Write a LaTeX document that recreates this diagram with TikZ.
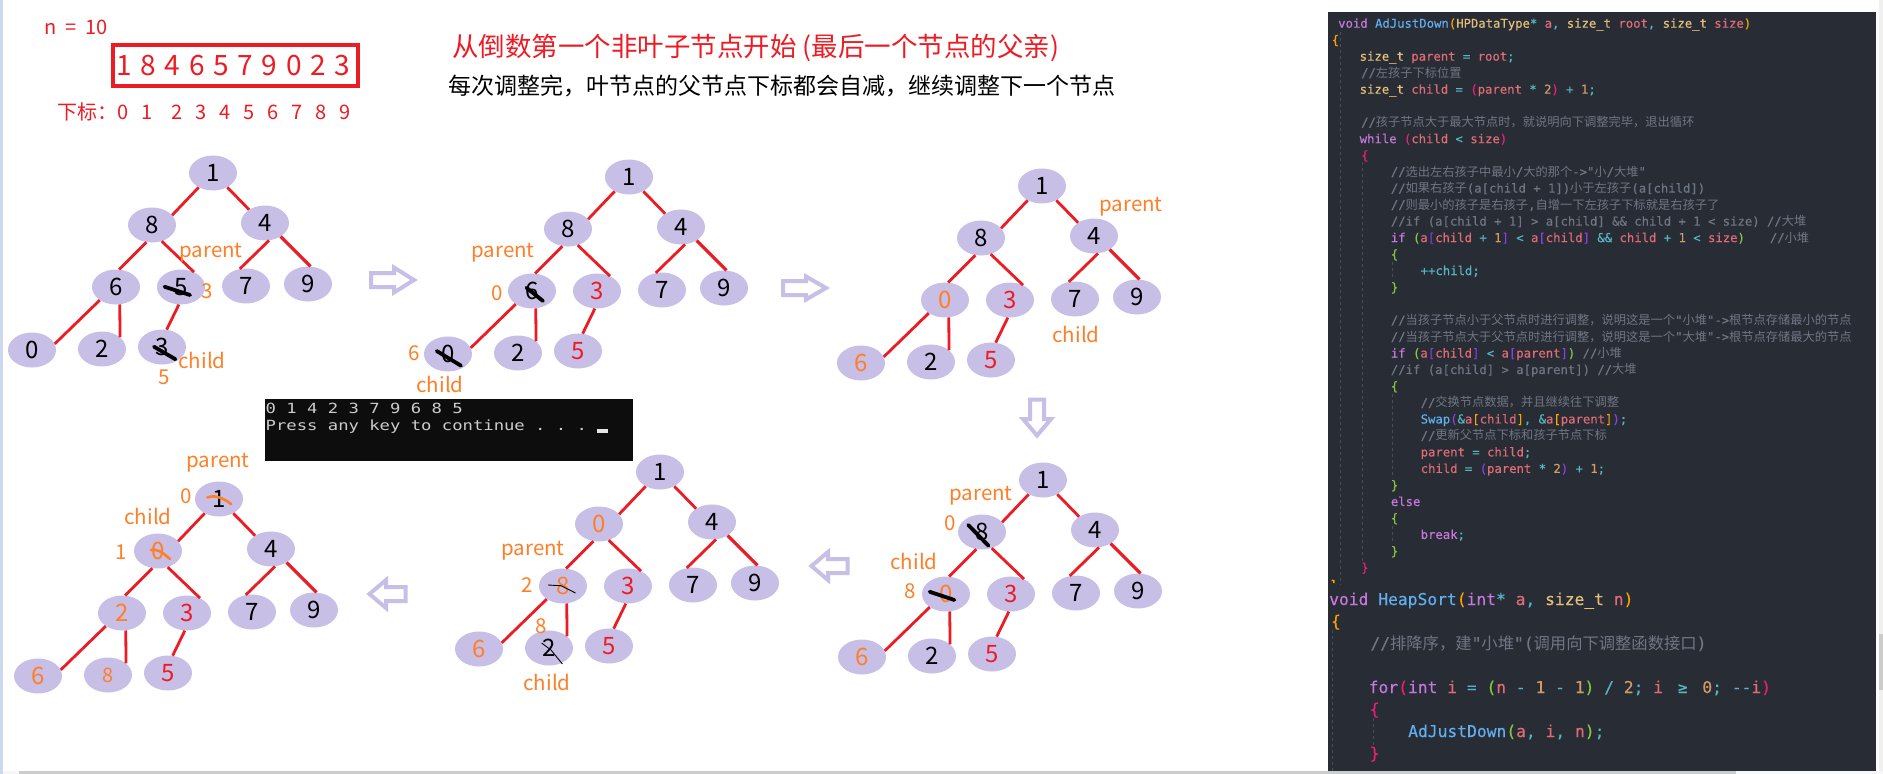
\documentclass[tikz,border=0pt]{standalone}
\usepackage{fontspec}
\usetikzlibrary{shapes.geometric}
\setmainfont{Noto Sans CJK SC}
\newfontfamily\zhf{Noto Sans CJK SC}
\newfontfamily\cmono[FakeBold=0.25]{DejaVu Sans Mono}
\newfontfamily\conf[FakeStretch=1.23]{DejaVu Sans Mono}
\definecolor{lav}{HTML}{C8BFE7}
\definecolor{myrd}{HTML}{ED1C24}
\definecolor{myor}{HTML}{FF7F27}
\definecolor{panel}{HTML}{282C34}
\definecolor{ckw}{HTML}{C678DD}
\definecolor{cfn}{HTML}{61AFEF}
\definecolor{cty}{HTML}{E5C07B}
\definecolor{cva}{HTML}{E06C75}
\definecolor{cnu}{HTML}{D19A66}
\definecolor{cop}{HTML}{56B6C2}
\definecolor{cco}{HTML}{6F7683}
\definecolor{brA}{HTML}{FFA000}
\definecolor{brB}{HTML}{F01E78}
\definecolor{brC}{HTML}{8CC63F}
\definecolor{brD}{HTML}{8A3FE0}
\definecolor{winedge}{HTML}{CDD8EC}
\newcommand\zh[1]{{\zhf #1}}
\newcommand\cK[1]{\textcolor{ckw}{#1}}
\newcommand\cF[1]{\textcolor{cfn}{#1}}
\newcommand\cT[1]{\textcolor{cty}{#1}}
\newcommand\cV[1]{\textcolor{cva}{#1}}
\newcommand\cN[1]{\textcolor{cnu}{#1}}
\newcommand\cO[1]{\textcolor{cop}{#1}}
\newcommand\bA[1]{\textcolor{brA}{#1}}
\newcommand\bB[1]{\textcolor{brB}{#1}}
\newcommand\bC[1]{\textcolor{brC}{#1}}
\newcommand\bD[1]{\textcolor{brD}{#1}}
\newcommand\cor{\color{myor}}
\newcommand\crd{\color{myrd}}
\tikzset{
  hn/.style={ellipse,fill=lav,inner sep=0pt,minimum width=48pt,minimum height=35pt,font=\fontsize{24}{26}\selectfont},
  ed/.style={draw=myrd,line width=2.8pt},
  lbl/.style={inner sep=0pt,text=myor,font=\fontsize{20.5}{24}\selectfont},
  sk/.style={draw=black,line width=3.8pt,line cap=round},
  thinsk/.style={draw=black,line width=.9pt},
  orsk/.style={draw=myor,line width=2.6pt,line cap=round},
  blk/.style={draw=lav,line width=4pt,miter limit=10},
  cd/.style={inner sep=0pt,anchor=base west,text=cco,font=\cmono\frenchspacing\fontsize{12.25}{14}\selectfont},
  cdb/.style={inner sep=0pt,anchor=base west,text=cco,font=\cmono\frenchspacing\fontsize{16.3}{20}\selectfont},
  guide/.style={draw=cco!45!panel,line width=.6pt,dash pattern=on 3pt off 3pt},
  con/.style={inner sep=0pt,anchor=base west,text=black!20,font=\conf\frenchspacing\fontsize{14}{16}\selectfont}
}
\newcommand\heap[9]{\def\hp{#1}\def\hx{#2}\def\hy{#3}\def\hA{#4}\def\hB{#5}\def\hC{#6}\def\hD{#7}\def\hE{#8}\def\hF{#9}\heapB}
\newcommand\heapB[4]{%
 \begin{scope}[shift={(\hx,\hy)}]
  \node[hn] (\hp-a) at (0,0) {\hA};
  \node[hn] (\hp-b) at (-61,52) {\hB};
  \node[hn] (\hp-c) at (52,50) {\hC};
  \node[hn] (\hp-d) at (-97,114) {\hD};
  \node[hn] (\hp-e) at (-32,114) {\hE};
  \node[hn] (\hp-f) at (33,113) {\hF};
  \node[hn] (\hp-g) at (95,111) {#1};
  \node[hn] (\hp-h) at (-181,177) {#2};
  \node[hn] (\hp-i) at (-111,176) {#3};
  \node[hn] (\hp-j) at (-51,174) {#4};
  \draw[ed] (\hp-a.225.6) -- (\hp-b.26);
  \draw[ed] (\hp-a.315) -- (\hp-c.140);
  \draw[ed] (\hp-b.252) -- (\hp-d.80);
  \draw[ed] (\hp-b.301) -- (\hp-e.49);
  \draw[ed] (\hp-c.283) -- (\hp-f.110);
  \draw[ed,line width=3.2pt] (\hp-c.319) -- (\hp-g.82);
  \draw[ed] (\hp-d.219) -- (\hp-h.15);
  \draw[ed] (\hp-d.282) -- (\hp-i.33.6);
  \draw[ed] (\hp-e.263) -- (\hp-j.75);
 \end{scope}}
\newcommand\blockarrow[5]{%
 \pgfmathsetmacro\aL{#4/2-2.5}\pgfmathsetmacro\aW{#5/2-3.5}%
 \draw[blk,shift={(#1,#2)},rotate=#3] (-\aL,-7) -- (1,-7) -- (1,-\aW) -- (\aL-1,0) -- (1,\aW) -- (1,7) -- (-\aL,7) -- cycle;}
\newcommand\cl[4]{\pgfmathsetmacro\cy{23.3+16.49*#2+4.4}\node[cd] (#1) at (#3,\cy) {#4};}
\begin{document}
\begin{tikzpicture}[x=1pt,y=-1pt]
\useasboundingbox (0,0) rectangle (1883,774);
\fill[white] (0,0) rectangle (1883,774);
% window edges
\fill[black!3] (0,771) rectangle (1883,774);
\fill[black!20] (19,771) rectangle (1736,774);
\fill[winedge] (0,0) rectangle (2.5,774);
\fill[black!6] (1879,0) rectangle (1883,771);
\fill[black!20] (1879,634) rectangle (1883,690);

% header
\node[inner sep=0pt,anchor=base west,text=myrd,font=\fontsize{20}{24}\selectfont] (nlabel) at (44,34) {\spaceskip=9pt n = 10};
\node[draw=myrd,line width=3.6pt,inner sep=0pt,minimum width=245.4pt,minimum height=41.4pt,text=myrd,font=\fontsize{28}{30}\selectfont] (arr) at (235.5,65.5) {\spaceskip=8.7pt 1 8 4 6 5 7 9 0 2 3\kern4.4pt};
\node[inner sep=0pt,anchor=base west,text=myrd,font=\fontsize{20}{24}\selectfont] (idx) at (57,119.5) {\spaceskip=12.9pt 下标：0 1\hspace{6pt} 2 3 4 5 6 7 8 9};
\node[inner sep=0pt,anchor=base west,text=myrd,font=\fontsize{26.5}{30}\selectfont] (title) at (452,56.5) {从倒数第一个非叶子节点开始 (最后一个节点的父亲)};
\node[inner sep=0pt,anchor=base west,text=black,font=\fontsize{23}{28}\selectfont] (sub) at (448,94.3) {每次调整完，叶节点的父节点下标都会自减，继续调整下一个节点};

% trees
\heap{ta}{213}{173}{1}{8}{4}{6}{5}{7}{9}{0}{2}{3}
\heap{tb}{629}{177}{1}{8}{4}{6}{\crd 3}{7}{9}{0}{2}{\crd 5}
\heap{tc}{1042}{186}{1}{8}{4}{\cor 0}{\crd 3}{7}{9}{\cor 6}{2}{\crd 5}
\heap{td}{1043}{480}{1}{8}{4}{\cor 0}{\crd 3}{7}{9}{\cor 6}{2}{\crd 5}
\heap{te}{660}{472}{1}{\cor 0}{4}{\cor 8}{\crd 3}{7}{9}{\cor 6}{2}{\crd 5}
\heap{tf}{219}{499}{1}{\cor 0}{4}{\cor 2}{\crd 3}{7}{9}{\cor 6}{\cor\fontsize{20}{22}\selectfont 8}{\crd 5}

% tree annotations
\node[lbl] (ta1) at (211,253) {parent};
\node[lbl] (ta2) at (207,291) {3};
\node[lbl] (ta3) at (202,360) {child};
\node[lbl] (ta4) at (164,377) {5};
\node[lbl] (tb1) at (503,253) {parent};
\node[lbl] (tb2) at (497.5,293) {0};
\node[lbl] (tb3) at (414,353) {6};
\node[lbl] (tb4) at (440,384) {child};
\node[lbl] (tc1) at (1131,207) {parent};
\node[lbl] (tc2) at (1076,334) {child};
\node[lbl] (td1) at (981,496) {parent};
\node[lbl] (td2) at (950,523) {0};
\node[lbl] (td3) at (914,561) {child};
\node[lbl] (td4) at (910,591) {8};
\node[lbl] (te1) at (533,551) {parent};
\node[lbl] (te2) at (527,585) {2};
\node[lbl] (te3) at (541,626) {8};
\node[lbl] (te4) at (547,682) {child};
\node[lbl] (tf1) at (218,463) {parent};
\node[lbl] (tf2) at (186,496) {0};
\node[lbl] (tf3) at (148,516) {child};
\node[lbl] (tf4) at (121,552) {1};

% strikes
\draw[sk] (164.5,286.7) -- (190,295);
\draw[sk] (154,346.7) -- (175.5,359.3);
\draw[sk] (526.5,287.7) -- (543,301);
\draw[sk] (436.7,351) -- (461,365.7);
\draw[sk] (968.3,525) -- (988.5,545.7);
\draw[sk] (929.6,591.7) -- (954.4,600);
\draw[thinsk] (548,585) -- (561,585.7) -- (575.5,593);
\draw[thinsk] (541.6,643) -- (551,650) -- (562.4,664);
\draw[orsk] (207.3,497.3) .. controls (214,495) and (222,497) .. (231,504);
\draw[orsk] (151,550) .. controls (158,549) and (162,552) .. (170,559);

% block arrows
\blockarrow{393}{280}{0}{49}{32}
\blockarrow{805}{288}{0}{49}{30}
\blockarrow{1037}{418}{-90}{42}{35}
\blockarrow{829}{566}{180}{42}{35}
\blockarrow{387}{594}{180}{42}{35}

% console
\fill[black!95] (264.5,399) rectangle (633,461);
\node[con] (con1) at (265.5,413) {0 1 4 2 3 7 9 6 8 5};
\node[con] (con2) at (265.5,430) {Press any key to continue . . .};
\fill[black!10] (597,429) rectangle (608,433);

% code panel
\fill[panel] (1328,12) rectangle (1876,771);
\draw[guide] (1340.5,32) -- (1340.5,585);
\draw[guide] (1362,162) -- (1362,562);
\draw[guide] (1392.5,262) -- (1392.5,280);
\draw[guide] (1392.5,394) -- (1392.5,478);
\draw[guide] (1392.5,526) -- (1392.5,544);
\draw[guide] (1332,630) -- (1332,771);
\draw[guide] (1373,718) -- (1373,748);
\fill[brA] (1331.5,579.5) -- (1334.5,580) -- (1334.5,583) -- (1333.2,583) -- (1333.2,581.2) -- (1331.5,581) -- cycle;

\cl{c0}{0}{1338}{\cK{void} \cF{AdJustDown}\bA{(}\cT{HPDataType}\cO{*} \cV{a}\cO{,} \cT{size\_t} \cV{root}\cO{,} \cT{size\_t} \cV{size}\bA{)}}
\cl{c1}{1}{1331.5}{\bA{\{}}
\cl{c2}{2}{1359.5}{\cT{size\_t} \cV{parent} \cO{=} \cV{root}\cO{;}}
\cl{c3}{3}{1361}{//\zh{左孩子下标位置}}
\cl{c4}{4}{1359.5}{\cT{size\_t} \cV{child} \cO{=} \bB{(}\cV{parent} \cO{*} \cN{2}\bB{)} \cO{+} \cN{1}\cO{;}}
\cl{c6}{6}{1361}{//\zh{孩子节点大于最大节点时，就说明向下调整完毕，退出循环}}
\cl{c7}{7}{1359.5}{\cK{while} \bB{(}\cV{child} \cO{<} \cV{size}\bB{)}}
\cl{c8}{8}{1361}{\bB{\{}}
\cl{c9}{9}{1390.7}{//\zh{选出左右孩子中最小}/\zh{大的那个}->"\zh{小}/\zh{大堆}"}
\cl{c10}{10}{1390.7}{//\zh{如果右孩子}(a[child + 1])\zh{小于左孩子}(a[child])}
\cl{c11}{11}{1390.7}{//\zh{则最小的孩子是右孩子},\zh{自增一下左孩子下标就是右孩子了}}
\cl{c12}{12}{1390.7}{//if (a[child + 1] > a[child] \&\& child + 1 < size) //\zh{大堆}}
\cl{c13}{13}{1390.7}{\cK{if} \bC{(}\cV{a}\bD{[}\cV{child} \cO{+} \cN{1}\bD{]} \cO{<} \cV{a}\bD{[}\cV{child}\bD{]} \cO{\&\&} \cV{child} \cO{+} \cN{1} \cO{<} \cV{size}\bC{)}\hspace{25pt}//\zh{小堆}}
\cl{c14}{14}{1390.7}{\bC{\{}}
\cl{c15}{15}{1420.5}{\cO{++}\cO{child;}}
\cl{c16}{16}{1390.7}{\bC{\}}}
\cl{c18}{18}{1390.7}{//\zh{当孩子节点小于父节点时进行调整，说明这是一个}"\zh{小堆}"->\zh{根节点存储最小的节点}}
\cl{c19}{19}{1390.7}{//\zh{当孩子节点大于父节点时进行调整，说明这是一个}"\zh{大堆}"->\zh{根节点存储最大的节点}}
\cl{c20}{20}{1390.7}{\cK{if} \bC{(}\cV{a}\bD{[}\cV{child}\bD{]} \cO{<} \cV{a}\bD{[}\cV{parent}\bD{]}\bC{)} //\zh{小堆}}
\cl{c21}{21}{1390.7}{//if (a[child] > a[parent]) //\zh{大堆}}
\cl{c22}{22}{1390.7}{\bC{\{}}
\cl{c23}{23}{1420.5}{//\zh{交换节点数据，并且继续往下调整}}
\cl{c24}{24}{1420.5}{\cF{Swap}\bD{(}\cO{\&}\cV{a}\bA{[}\cV{child}\bA{]}\cO{,} \cO{\&}\cV{a}\bA{[}\cV{parent}\bA{]}\bD{)}\cO{;}}
\cl{c25}{25}{1420.5}{//\zh{更新父节点下标和孩子节点下标}}
\cl{c26}{26}{1420.5}{\cV{parent} \cO{=} \cV{child}\cO{;}}
\cl{c27}{27}{1420.5}{\cV{child} \cO{=} \bD{(}\cV{parent} \cO{*} \cN{2}\bD{)} \cO{+} \cN{1}\cO{;}}
\cl{c28}{28}{1390.7}{\bC{\}}}
\cl{c29}{29}{1390.7}{\cK{else}}
\cl{c30}{30}{1390.7}{\bC{\{}}
\cl{c31}{31}{1420.5}{\cK{break}\cO{;}}
\cl{c32}{32}{1390.7}{\bC{\}}}
\cl{c33}{33}{1361}{\bB{\}}}

\node[cdb] (h0) at (1329,605) {\cK{void} \cF{HeapSort}\bA{(}\cK{int}\cO{*} \cV{a}\cO{,} \cT{size\_t} \cV{n}\bA{)}};
\node[cdb] (h1) at (1330.8,627) {\bA{\{}};
\node[cdb] (h2) at (1370.3,649) {//\zh{排降序，建}"\zh{小堆}"(\zh{调用向下调整函数接口})};
\node[cdb] (h3) at (1368.5,693) {\cK{for}\bB{(}\cK{int} \cV{i} \cO{=} \bC{(}\cV{n} \cO{-} \cN{1} \cO{-} \cN{1}\bC{)} \cO{/} \cN{2}\cO{;} \cV{i} \cO{\makebox[19.6pt]{≥}} \cN{0}\cO{;} \cO{-{}-}\cV{i}\bB{)}};
\node[cdb] (h4) at (1369.5,715) {\bB{\{}};
\node[cdb] (h5) at (1408,737) {\cF{AdJustDown}\bC{(}\cV{a}\cO{,} \cV{i}\cO{,} \cV{n}\bC{)}\cO{;}};
\node[cdb] (h6) at (1369.5,759) {\bB{\}}};
\end{tikzpicture}
\end{document}
